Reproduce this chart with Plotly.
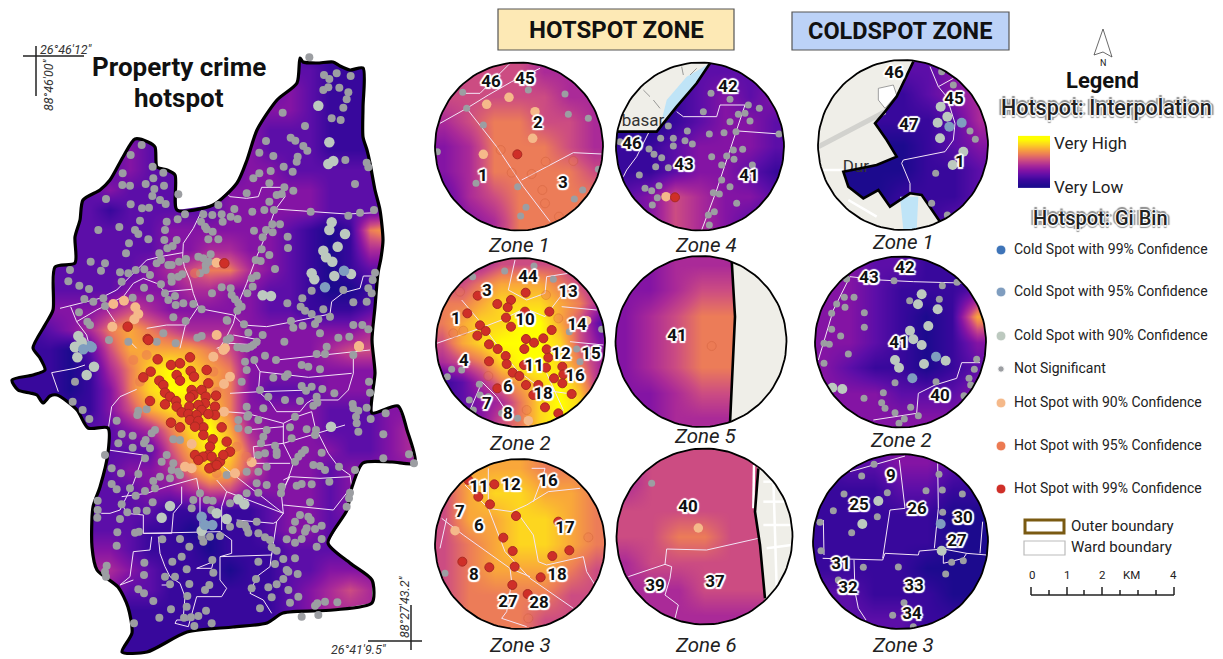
import numpy as np
import plotly.graph_objects as go

# ---------- data (map grid: values 0-9) ----------
MAP_X = list(range(10, 430, 20))
MAP_Y = list(range(50, 670, 20))
MAP_Z = [
"222222222222222111111","222222222222222211111","222222222222223211111","222222222222233211111",
"222222222222322211111","222222322222322211122","222222322222332222222","222223222223333322222",
"222221222223333322222","222222223333332101673","222222223344332101442","222222234566432101222",
"222222333443322100111","333334543333322111222","112346765444333333443","111025777765333345533",
"111014689876333333333","111013689976322233333","111113578886333322233","222222346897433322234",
"222222225798533332234","222222334687533323333","222222233455333323333","222222221121123323333",
"222222211001123322222","333333211101112222222","444444321110112233333","333333221111112345444",
"111111111111112344444","111111111111112222222","111111111111111111111",
]
OUTLINE = [(300,58),(303,62),(317,63),(333,62),(340,66),(350,70),(363,68),(363,107),(363,137),(367,150),(370,163),(375,190),(380,210),(383,240),(381,258),(378,273),(375,307),(372,340),
(375,373),(373,390),(372,413),(398,406),(407,430),(415,463),(392,462),(363,463),(352,487),(347,510),(328,543),(350,563),(372,580),(372,603),(333,610),(283,613),(267,623),(233,627),(187,632),(147,652),(122,652),(132,633),(128,607),(118,587),(97,570),(92,547),(93,507),(100,487),(108,453),(108,428),(88,428),(77,410),(57,395),(50,396),(43,403),(37,395),(30,393),(18,390),(12,380),(33,375),(45,370),(40,358),(33,348),
(45,325),(53,310),(55,267),(75,263),(75,237),(80,220),(83,200),(100,190),(110,180),(123,157),(135,139),(148,142),(155,147),(157,167),(167,170),(175,175),(177,210),(213,205),(237,183),(247,160),(257,130),(277,100),(297,83)]

MAP_LINES = [
[(680,460),(690,470),(740,475),(775,470),(785,442),(850,442),(855,470),(825,510),(800,580),(770,650),(740,730),(715,790),(700,850),(680,890),(655,930)],
[(825,507),(930,515),(1040,522),(1130,518)],
[(608,507),(580,565),(550,610),(548,650),(553,680),(570,720),(580,760),(595,800),(575,830),(555,860),(540,925)],
[(548,638),(480,650),(440,660),(400,700),(350,750),(300,775),(180,805)],
[(212,800),(230,845),(260,885),(270,925)],
[(230,845),(290,810),(370,770),(400,730),(430,715),(470,730),(495,755),(575,748)],
[(595,805),(700,825),(730,855),(800,860),(880,845),(990,822),(995,785),(1030,758),(1080,745),(1090,708),(1125,708)],
[(318,805),(345,845)],[(440,865),(500,855),(555,855)],
[(700,885),(780,900),(775,915),(690,910),(650,925)],[(385,900),(410,925)],
]
MAP_LINES_LOW = [
[(255,75),(225,85),(155,98),(175,155)],
[(410,148),(360,170),(335,200),(325,265),(325,330),(430,345),(400,430),(370,490),(360,510),(330,520),(305,520),(280,505)],
[(365,470),(440,460),(500,440),(590,415)],[(590,415),(600,470),(600,575)],
[(545,440),(545,490),(520,520),(515,580),(430,580),(430,525),(380,520),(365,490)],
[(430,580),(600,575),(660,575),(695,600),(695,640),(660,650),(660,720),(680,745),(665,770),(590,770),(575,820),(565,860),(525,850),(530,840),(565,840)],
[(455,590),(450,630),(400,635),(390,710),(360,735),(400,720)],
[(475,590),(480,640),(495,680),(510,710),(540,730),(555,770),(550,830)],
[(660,650),(815,645),(820,610),(830,545),(850,520),(845,470),(870,400),(880,370),(850,310),(850,250),(890,230),(935,215),(945,260),(985,340),(1015,380),(1050,405),(1055,440),(1000,510),(850,495)],
[(650,420),(680,455),(665,500),(665,570)],[(680,455),(850,520)],[(850,520),(720,420),(670,380)],
[(710,540),(820,550),(830,545)],
[(760,60),(780,95),(775,155),(810,185),(830,215),(900,215),(920,190),(935,180),(1015,180),(1045,150),(1060,100),(1060,40)],
[(780,95),(925,112),(1055,100)],[(690,160),(780,155),(930,150)],[(830,60),(1110,30)],
[(675,215),(740,220),(850,250)],[(740,270),(800,265),(850,260)],[(760,320),(850,310),(1035,255)],
[(760,320),(765,370),(800,370),(870,370)],[(850,420),(870,410),(960,415),(1050,410)],[(850,445),(870,410)],
[(590,685),(640,665),(635,685),(590,685)],[(485,735),(520,735)],
[(815,640),(810,680),(770,710),(750,760),(790,780),(815,820)],
]
UP_GREY = [(928,52),(972,105),(988,117),(1010,100),(1052,108),(970,150),(985,142),(1018,143),(1045,157),(1040,178),(1030,203),(995,235),(1022,240),(848,218),(915,258),(798,303),(872,293),(886,302),(910,318),(922,332),(893,350),(890,365),(820,348),(778,338),(851,380),(878,395),(812,393),(778,400),(760,415),(808,430),(853,442),(880,452),(740,460),(830,465),(845,462),(808,485),(793,510),(822,510),(757,515),(1036,360),(1100,368),(1105,382),(1065,432),(932,515),(1045,527),(1080,518),(1122,510),(840,553),(817,553),(798,570),(762,572),(818,577),(788,592),(863,590),(864,624),(785,628),(808,645),(767,660),(782,663),(825,687),(770,707),(755,715),(758,740),(742,760),(692,745),(695,765),(665,742),(636,760),(705,778),(715,790),(725,800),(712,812),(862,790),(907,775),(902,800),(915,812),(935,822),(970,808),(990,830),(955,838),(945,852),(908,857),(873,843),(880,863),(960,880),(1015,893),(1048,890),(1060,855),(1087,855),(1105,868),(1060,787),(1100,785),(1030,750),(1105,745),(1115,760),(1118,720),(1125,698),(935,752),(853,905),(788,885),(745,878),(732,853),(682,842),(592,893),(605,888),(680,900),(690,895),(752,920),(740,925),(728,925),(770,905),
(425,315),(392,345),(458,380),(368,400),(490,398),(460,415),(367,435),(390,437),(437,432),(463,447),(492,437),(457,468),(318,477),(480,480),(497,492),(392,493),(426,505),(447,503),(535,463),(555,523),(533,538),(500,545),(420,542),(358,561),(295,570),(495,570),(405,570),(415,582),(445,598),(493,600),(387,610),(378,640),(603,545),(615,560),(620,568),(638,575),(610,523),(637,525),(665,523),(668,545),(703,507),(713,537),(692,530),(655,495),(625,598),(655,598),(530,600),(518,618),(502,625),(478,640),(595,650),(632,643),(610,655),(558,657),(537,665),(515,675),(505,675),(483,660),(470,670),(272,665),(315,670),(303,692),(210,690),(205,724),(238,737),(267,747),(360,697),(385,700),(407,690),(433,688),(450,705),(365,725),(432,743),(483,733),(514,710),(535,710),(547,703),(515,725),(495,760),(505,780),(525,768),(527,795),(550,790),(580,792),(617,690),(600,700),(617,675),(627,665),(315,798),(280,785),(253,777),(310,775),(237,817),(262,845),(270,855),(398,773),(450,775),(520,832),(557,843),(680,840),(605,808),(490,880),(470,905),(527,910),(327,900),(385,905)]
UP_COLD90 = [(955,197),(988,307),(985,372),(1000,363),(995,547),(988,570),(1035,582),(970,632),(1013,620),(978,652),(997,665),(935,700),(943,718),(1003,708),(1053,702),(788,766),(813,768),(235,888),(225,920),(245,905)]
UP_COLD95 = [(975,742),(1032,692),(270,918),(250,925)]
UP_HOT90 = [(650,668),(340,792),(372,782),(406,802),(415,822),(403,838),(337,860),(650,885),(1077,918),(675,925)]
UP_HOT95 = [(585,700)]
UP_HOT99 = [(673,670),(383,860),(443,897)]

LOW_GREY = [(225,125),(218,185),(248,210),(268,237),(350,242),(412,225),(440,208),(415,212),(465,270),(455,280),(365,282),(398,287),(355,310),(437,300),(432,310),(520,298),(540,300),(398,323),(450,325),(315,345),(435,355),(500,345),(485,365),(520,370),(335,385),(363,400),(415,402),(515,390),(535,395),(480,410),(460,423),(510,415),(335,432),(350,448),(390,445),(435,453),(465,445),(407,467),(293,482),(365,493),(410,512),(382,517),(440,512),(458,487),(293,510),(292,533),(360,537),(352,577),(405,578),(417,575),(350,617),(487,598),(540,597),(568,620),(610,605),(545,650),(517,665),(433,668),(560,688),(432,705),(525,710),(495,710),(640,698),(510,733),(568,732),(628,735),(615,750),(415,748),(432,760),(562,768),(460,783),(513,808),(478,833),(552,833),(573,832),(595,828),(618,812),(635,850),(583,858),(402,850),(780,805),(815,772),(755,745),(805,742),(830,733),(850,717),(893,702),(865,695),(860,690),(825,672),(850,657),(885,655),(775,665),(768,717),(865,750),(895,770),(870,788),(1012,787),(975,785),(952,790),(905,830),(955,825),(945,797),(320,677),(315,695),(318,710),(637,660),(560,800),
(795,47),(735,65),(712,22),(740,25),(760,15),(763,60),(828,60),(905,75),(925,80),(960,88),(950,42),(980,20),(975,42),(1060,45),(740,90),(725,125),(820,113),(855,110),(863,103),(905,138),(780,150),(967,147),(1003,160),(1107,125),(1110,158),(918,152),(935,140),(805,170),(855,180),(900,183),(950,170),(940,197),(952,188),(1058,192),(1060,205),(1100,203),(1075,212),(1068,230),(1070,250),(1112,237),(1075,275),(1157,220),(1150,283),(1150,355),(1227,343),(1242,370),(740,200),(790,205),(745,225),(715,240),(775,240),(742,230),(715,265),(800,270),(745,270),(790,290),(783,310),(885,230),(870,262),(875,295),(920,268),(948,270),(945,285),(915,330),(905,340),(895,350),(885,365),(965,338),(940,375),(960,378),(975,390),(1017,380),(1065,390),(830,345),(830,335),(775,345),(795,340),(825,317),(800,380),(775,395),(770,430),(800,435),(845,440),(843,460),(890,437),(905,432),(935,433),(988,425),(1050,458),(1047,475),(1040,500),(930,487),(900,525),(925,530),(932,540),(885,545),(965,557),(945,567),(920,565),(915,575),(878,570),(860,598),(885,608),(905,597),(965,597),(950,620),(815,622),(830,632),(810,600),(795,592),(775,580),(740,565),(745,578),(735,555),(770,545),(720,552),(690,560),(660,588),(630,590),(605,590),(580,480),(575,505),(600,460),(638,482),(634,510),(690,490),(740,460),(775,458),(680,405),(740,395),(540,405),(620,480)]
LOW_COLD90 = [(993,260),(510,498),(485,533),(232,52),(260,105),(282,80),(225,22),(245,10),(605,572),(650,520),(680,537),(715,478),(733,493)]
LOW_COLD95 = [(605,530),(615,555),(637,555),(250,28),(275,22)]
LOW_HOT90 = [(1077,20),(690,110),(672,132),(672,215),(575,312),(555,380),(575,385),(705,400),(755,367),(640,50),(670,30)]
LOW_HOT95 = [(400,60),(420,125),(440,45),(640,95),(650,155),(710,320),(740,350),(650,400)]
LOW_HOT99 = [(445,0),(473,58),(513,75),(540,70),(570,52),(530,105),(572,93),(582,110),(540,122),(620,90),(452,95),(430,112),(478,122),(490,135),(625,130),(495,158),(510,170),(528,183),(575,150),(605,150),(580,165),(570,172),(617,170),(648,167),(450,183),(495,193),(530,200),(615,190),(568,200),(595,195),(645,200),(605,210),(545,217),(565,222),(590,225),(645,225),(625,222),(513,248),(540,262),(570,240),(595,243),(665,262),(610,262),(585,260),(610,285),(638,298),(680,305),(630,320),(625,345),(585,345),(610,350),(635,350),(660,365),(690,335),(670,345),(595,360),(640,380),(628,385),(650,375)]

# zone: hot 1
H1_Z = ["4555444","5555544","4566554","3466654","3466665","2456666","2346666"]
H1_LINES = [[(30,370),(110,325),(175,285),(245,245),(330,205)],[(100,280),(150,280),(240,190)],[(110,325),(200,440),(280,560),(360,665)],[(275,540),(350,500),(430,458),(515,462)]]
H1_GREY = [(98,277),(110,325),(295,270),(405,282),(415,343),(475,355),(160,375),(138,550),(263,560),(288,622),(272,648),(433,597),(458,570),(505,508),(22,455)]
H1_H90 = [(170,313),(237,292),(315,335),(308,415),(160,463)]
H1_H95 = [(212,450),(245,518),(305,522),(347,485),(430,483),(337,570),(345,610),(387,650)]
H1_H99 = [(262,463)]
H1_TXT = ["46","45","2","1","3"]; H1_TXY = [(491,83),(525,80),(538,124),(483,177),(563,184)]
# zone: hot 4
H4_Z = ["1112222","1112323","0012332","1123332","1123321","2354332","2354321"]
H4_LAND = [(520,395),(680,395),(740,320),(800,250),(840,190),(840,150),(520,150)]
H4_RIVER = [(695,360),(710,300),(770,230),(830,195),(840,190),(800,250),(740,320)]
H4_BORDER = [(560,395),(640,395),(680,395),(740,320),(800,250),(840,190)]
H4_DASH = [[(640,270),(660,290)],[(670,300),(690,325)],[(755,200),(760,225)],[(800,205),(780,225)]]
H4_LINES = [[(740,335),(760,350),(860,350),(870,315),(945,315),(900,450),(860,570),(815,690)],[(925,393),(1050,402)],[(660,390),(620,470),(590,510),(580,530)]]
H4_GREY = [(843,280),(900,298),(955,315),(988,325),(820,335),(925,343),(945,340),(960,363),(900,365),(715,378),(772,393),(838,402),(882,398),(918,395),(1047,402),(692,415),(730,415),(765,422),(787,432),(730,438),(657,447),(672,463),(695,473),(890,468),(910,450),(938,448),(912,478),(845,470),(875,495),(967,495),(628,525),(677,500),(715,503),(875,540),(900,560),(645,565),(687,557),(665,572),(682,593),(667,615),(850,578),(868,582),(920,610),(853,635),(835,645),(838,675),(570,425)]
H4_H90 = [(708,590)]; H4_H99 = [(735,592)]
H4_TXT = ["42","46","43","41"]; H4_TXY = [(728,88),(632,145),(684,166),(749,177)]
# zone: hot 2
H2_Z = ["444555544","556777654","667888764","678899752","578999853","456899864","124678974","123468985","123568985"]
H2_LINES = [[(255,30),(235,120)],[(235,120),(290,150),(345,130),(350,80),(415,70)],[(95,150),(150,215),(205,290),(260,360),(340,420),(410,430)],[(20,280),(150,235),(215,210),(285,175),(345,200),(395,135)],[(395,170),(500,180)],[(420,275),(520,285)],[(155,395),(200,440),(240,500)],[(350,370),(400,480),(360,520)],[(120,480),(150,410)]]
H2_GREY = [(224,63),(312,48),(128,80),(370,88),(440,297),(515,238),(418,245),(65,358),(52,380),(95,360),(148,403),(118,450),(150,435),(175,440),(215,490),(263,505),(130,480),(450,335)]
H2_H90 = [(470,212),(295,512)]
H2_H95 = [(90,125),(348,135),(70,250),(100,242),(385,205),(175,378),(290,480)]
H2_H99 = [(143,137),(202,162),(243,150),(233,172),(287,128),(285,185),(358,185),(228,203),(112,190),(150,226),(243,230),(167,243),(365,240),(142,257),(288,267),(340,265),(312,278),(177,283),(203,297),(283,297),(350,298),(227,318),(355,323),(177,334),(230,342),(282,345),(348,353),(397,350),(248,368),(268,378),(372,385),(400,373),(288,405),(397,400),(325,405),(202,415),(425,432),(310,435),(345,472),(385,490)]
H2_TXT = ["44","3","13","1","10","14","12","15","4","11","16","6","18","7","8"]
H2_TXY = [(528,278),(487,292),(568,293),(456,320),(525,321),(577,326),(561,355),(591,355),(464,362),(534,367),(575,377),(508,388),(543,395),(487,405),(508,415)]
# zone: hot 5
H5_Z = ["3344444","3345555","3456666","3456666","3456666","3345555","3344444"]
H5_LAND = [(905,0),(915,200),(900,540),(1100,540),(1100,0)]
H5_BORDER = [(905,30),(915,200),(900,520)]
H5_H95 = [(845,288)]
H5_TXT = ["41"]; H5_TXY = [(677,337)]
# zone: hot 3
H3_Z = ["6777666","5788776","5778876","5678876","5677765","5666655","5666555"]
H3_LINES = [[(105,120),(175,190),(245,200),(290,180),(355,140),(450,130)],[(175,70),(175,190),(225,320),(300,400),(430,490)],[(35,220),(100,270),(240,370),(300,395)],[(260,200),(310,270),(325,350),(350,360),(460,335),(470,380),(495,420)],[(240,370),(245,410),(230,500),(215,520),(290,545)],[(305,70),(345,70),(340,90),(310,170)],[(50,220),(30,310)]]
H3_GREY = [(45,385)]; H3_H90 = [(75,257)]; H3_H95 = [(475,277),(295,520)]
H3_H99 = [(193,118),(115,105),(180,178),(258,213),(385,230),(220,278),(248,318),(418,316),(367,333),(97,350),(178,367),(254,365),(332,397),(247,420),(293,447),(145,155)]
H3_TXT = ["11","12","16","7","6","17","8","18","27","28"]
H3_TXY = [(479,488),(511,486),(548,482),(460,513),(479,527),(565,529),(474,576),(557,576),(508,603),(539,604)]
# zone: hot 6
H6_Z = ["4555554","4555554","5555555","5566555","4555555","4445555","4444444"]
H6_LAND = [(985,0),(975,200),(990,300),(1005,480),(1100,480),(1100,0)]
H6_BORDER = [(985,70),(975,200),(990,300),(1005,460)]
H6_STREETS = [[(1000,110),(1085,110)],[(1000,170),(1085,170)],[(1000,240),(1085,240)],[(1010,310),(1085,300)],[(1030,100),(1040,430)],[(972,60),(970,190)]]
H6_LINES = [[(595,395),(705,358),(710,312),(830,315),(985,280)],[(705,358),(725,365),(720,400),(705,450),(745,480),(735,520)]]
H6_GREY = [(665,115)]; H6_H90 = [(805,249)]
H6_TXT = ["40","37","39"]; H6_TXY = [(688,508),(715,583),(655,587)]
# zone: cold 1
C1_Z = ["1122233","1111234","0011124","0000123","0000112","0001112","0111122"]
C1_LAND = [(370,185),(345,240),(320,290),(285,335),(255,370),(290,420),(320,470),(260,495),(160,515),(175,560),(220,595),(265,570),(300,620),(360,580),(395,585),(450,665),(450,720),(50,720),(50,170),(370,170)]
C1_BORDER = [(370,185),(345,240),(320,290),(285,335),(255,370),(290,420),(320,470),(260,495),(160,515),(175,560),(220,595),(265,570),(300,620),(360,580),(395,585),(450,665)]
C1_RIVER = [(330,590),(385,590),(380,690),(340,690)]
C1_ISLAND = [(265,265),(310,255),(320,285),(285,325),(265,300),(265,265)]
C1_ROAD = [(85,440),(285,335)]
C1_WHITE = [[(100,510),(160,510)],[(175,600),(260,650)]]
C1_LINES = [[(420,200),(445,260),(490,235)],[(445,260),(470,290),(495,370),(490,420),(465,455),(340,480),(335,490),(360,550),(360,575)]]
C1_GREY = [(455,215),(490,255),(540,393),(556,418),(437,520),(425,610),(472,645)]
C1_C90 = [(452,320),(472,350),(443,368),(450,415),(520,455),(488,495)]
C1_C95 = [(478,380),(515,368)]
C1_TXT = ["46","45","47","1"]; C1_TXY = [(894,74),(954,100),(909,126),(960,163)]
# zone: cold 2
C2_Z = ["3322111","3321112","3321017","3321013","3211012","3332223","3333333"]
C2_LINES = [[(55,330),(100,180),(150,80),(240,90),(340,95),(470,100),(520,100)],[(220,510),(350,490),(355,430),(405,405),(470,385),(485,338),(540,338)]]
C2_GREY = [(140,87),(282,92),(427,107),(471,97),(162,142),(133,142),(110,162),(135,172),(95,190),(193,188),(193,232),(95,238),(122,258),(72,280),(88,283),(145,312),(72,340),(329,152),(418,148),(285,398),(408,395),(192,445),(250,428),(245,458),(255,475),(285,488),(332,472),(355,497),(313,507),(297,520),(530,328),(523,358),(507,385),(512,405),(492,437)]
C2_C90 = [(365,133),(354,163),(413,178),(385,228),(330,242),(340,268),(365,285),(285,330),(297,353),(372,342),(437,332),(127,417),(97,413)]
C2_C95 = [(408,320),(337,385)]
C2_TXT = ["42","43","41","40"]; C2_TXY = [(905,269),(869,279),(899,344),(940,397)]
# zone: cold 3
C3_Z = ["1223321","1112211","1111100","1111100","1111000","2211100","2222111"]
C3_LINES = [[(150,80),(220,60),(315,33)],[(298,45),(315,190),(270,195),(248,340)],[(68,340),(248,345),(255,325),(355,330),(358,318),(430,312),(500,325),(560,330)],[(413,55),(415,190),(403,310)],[(430,312),(430,355),(490,340),(500,325)],[(540,325),(548,230)],[(70,225),(72,330)],[(162,345),(165,440),(175,490),(198,525)]]
C3_GREY = [(222,58),(185,93),(417,88),(132,147),(262,143),(378,137),(427,135),(487,147),(100,197),(232,215),(428,202),(60,232),(155,263),(63,317),(190,367),(295,366),(455,352),(490,347),(437,387),(312,473),(278,511),(340,545),(115,405)]
C3_C90 = [(235,168),(187,237),(425,317)]
C3_C95 = [(422,237)]
C3_TXT = ["9","25","26","30","27","31","32","33","34"]
C3_TXY = [(891,477),(859,506),(917,510),(963,519),(957,542),(841,565),(848,589),(914,587),(912,615)]

ZONE_NAMES = ["Zone 1","Zone 4","Zone 2","Zone 5","Zone 3","Zone 6","Zone 1","Zone 2","Zone 3"]
ZONE_NAME_XY = [(519,245),(706,245),(520,443),(705,436),(520,645),(706,645),(903,242),(901,440),(903,645)]
LEG_LABELS = ["Cold Spot with 99% Confidence","Cold Spot with 95% Confidence","Cold Spot with 90% Confidence","Not Significant","Hot Spot with 90% Confidence","Hot Spot with 95% Confidence","Hot Spot with 99% Confidence"]
LEG_Y = [250,292,336,369,403,446,489]
GRAD_Z = [[0,0],[1,1],[2,2],[3,3],[4,4],[5,5],[6,6],[7,7],[8,8],[9,9]]
SCALE_LABELS = ["0","1","2","KM","4"]
SCALE_LABEL_X = [1032,1067,1102,1131,1173]
SCALE_TICK_X = [1031,1049,1067,1084,1102,1120,1138,1156,1174]

# ---------- styles ----------
CS = [[0,"#1c0a8e"],[1/9,"#38089c"],[2/9,"#5c0ea8"],[3/9,"#8414a4"],[4/9,"#aa2a98"],[5/9,"#cc4c82"],[6/9,"#ec7c58"],[7/9,"#f9a73a"],[8/9,"#fdd61f"],[1,"#ffff00"]]
GREY="#9c9ea2"; C90="#bcc9bf"; C95="#7f9dbf"; C99="#3e74b8"; H90="#f5b98a"; H95="#ec7a52"; H99="#cf2f28"
FONT="Roboto"; WARD="#f3e4f6"; LAND="#efeee8"; RIVER="#bfe4f7"
HALO = ",".join(f"{a}px {b}px 1px #fff" for a,b in [(2,0),(-2,0),(0,2),(0,-2),(1.5,1.5),(-1.5,1.5),(1.5,-1.5),(-1.5,-1.5)])
HALO2 = ",".join(f"{a}px {b}px 1px #fff" for a,b in [(1.5,0),(-1.5,0),(0,1.5),(0,-1.5)]) + ",3px 0 1px #888,-3px 0 1px #888,0 3px 1px #888,0 -3px 1px #888"

fig = go.Figure()

def pts(pairs, ox, oy):
    return [ox + p[0]/3 for p in pairs], [oy + p[1]/3 for p in pairs]

def grid(rows):
    return [[int(c) for c in r] for r in rows]

def heat(x, y, rows):
    fig.add_trace(go.Heatmap(x=x, y=y, z=grid(rows), colorscale=CS, zmin=0, zmax=9, zsmooth="best",
                             showscale=False, hoverinfo="skip"))

def line(x, y, color=WARD, width=1.0, spline=False):
    ln = dict(color=color, width=width)
    if spline:
        ln.update(shape="spline", smoothing=0.7)
    fig.add_trace(go.Scatter(x=x, y=y, mode="lines", line=ln, hoverinfo="skip", showlegend=False))

def poly(x, y, color):
    fig.add_trace(go.Scatter(x=x, y=y, mode="lines", fill="toself", fillcolor=color, line=dict(width=0, color=color), hoverinfo="skip", showlegend=False))

def dots(pairs, ox, oy, color, size, edge=None, opacity=1):
    if not pairs:
        return
    x, y = pts(pairs, ox, oy)
    fig.add_trace(go.Scatter(x=x, y=y, mode="markers", opacity=opacity,
        marker=dict(color=color, size=size, line=dict(width=1 if edge else 0, color=edge or color)),
        hoverinfo="skip", showlegend=False))

def ccw(path):
    a = sum(path[i][0]*path[(i+1)%len(path)][1]-path[(i+1)%len(path)][0]*path[i][1] for i in range(len(path)))
    return path if a < 0 else path[::-1]

def hole_mask(x0, x1, y0, y1, path):
    rect = [(x0,y0),(x1,y0),(x1,y1),(x0,y1),(x0,y0)]
    a = sum(rect[i][0]*rect[i+1][1]-rect[i+1][0]*rect[i][1] for i in range(4))
    p = ccw(path) if a > 0 else ccw(path)[::-1]
    p = p + [p[0]]
    xs = [q[0] for q in rect] + [None] + [q[0] for q in p]
    ys = [q[1] for q in rect] + [None] + [q[1] for q in p]
    poly(xs, ys, "#ffffff")

def labels(txt, xy, size=17):
    fig.add_trace(go.Scatter(x=[p[0] for p in xy], y=[p[1] for p in xy], text=txt, mode="text",
        textfont=dict(family=FONT, size=size, color="#111", weight=700, shadow=HALO), hoverinfo="skip", showlegend=False))

# ---------- main map ----------
heat(MAP_X, MAP_Y, MAP_Z)
hole_mask(-5, 425, 35, 665, OUTLINE)
for l in MAP_LINES:
    x, y = pts(l, 0, 40); line(x, y)
for l in MAP_LINES_LOW:
    x, y = pts(l, 0, 340); line(x, y)
line([p[0] for p in OUTLINE]+[OUTLINE[0][0]], [p[1] for p in OUTLINE]+[OUTLINE[0][1]], "#000000", 3.2, spline=True)
for grey, c90, c95, h90, h95, h99, oy in [(UP_GREY,UP_COLD90,UP_COLD95,UP_HOT90,UP_HOT95,UP_HOT99,40),(LOW_GREY,LOW_COLD90,LOW_COLD95,LOW_HOT90,LOW_HOT95,LOW_HOT99,340)]:
    dots(grey,0,oy,GREY,8)
    dots(c90,0,oy,C90,10.5)
    dots(c95,0,oy,C95,10.5)
    dots(h90,0,oy,H90,10)
    dots(h95,0,oy,H95,10,opacity=0.55)
    dots(h99,0,oy,H99,9.5,edge="#a92a22")

# ---------- zone circles ----------
def clamp(x, y, cx, cy, r):
    m = r + 3
    return [min(max(v, cx-m), cx+m) for v in x], [min(max(v, cy-m), cy+m) for v in y]

def zone(cx, cy, r, ox, oy, rows, lines=(), grey=(), c90=(), c95=(), h90=(), h95=(), h99=(), txt=(), txy=(), land=None, extras=None, border=None):
    n = len(rows)
    d = 2*(r+4)/n
    c = [d*(i+0.5)-(r+4) for i in range(n)]
    heat([cx+v for v in c], [cy+v for v in c], rows)
    if land:
        x, y = pts(land, ox, oy); x, y = clamp(x, y, cx, cy, r); poly(x, y, LAND)
    if extras:
        extras(cx, cy, r)
    for l in lines:
        x, y = pts(l, ox, oy); line(x, y)
    if border:
        x, y = pts(border, ox, oy); line(x, y, "#000000", 2.6)
    dots(list(grey),ox,oy,GREY,7)
    dots(list(c90),ox,oy,C90,10)
    dots(list(c95),ox,oy,C95,10)
    dots(list(h90),ox,oy,H90,9.5)
    dots(list(h95),ox,oy,H95,9,edge="#c8552f",opacity=0.35)
    dots(list(h99),ox,oy,H99,9,edge="#a92a22")
    t = np.linspace(0, 2*np.pi, 121)[:-1]
    circ = [(cx+r*np.cos(a), cy+r*np.sin(a)) for a in t]
    hole_mask(cx-r-5, cx+r+5, cy-r-5, cy+r+5, circ)
    line([p[0] for p in circ]+[circ[0][0]], [p[1] for p in circ]+[circ[0][1]], "#000000", 1.8)
    labels(list(txt), list(txy))

def h4_extra(cx, cy, r):
    x, y = pts(H4_RIVER, 430, 0); poly(x, y, RIVER)
    for l in H4_DASH:
        x, y = pts(l, 430, 0); line(x, y, "#9a9a98", 1)
    fig.add_trace(go.Scatter(x=[643], y=[122], text=["basar"], mode="text", textfont=dict(family=FONT, size=17, color="#333"), hoverinfo="skip", showlegend=False))

def h6_extra(cx, cy, r):
    for l in H6_STREETS:
        x, y = pts(l, 430, 445); x, y = clamp(x, y, cx, cy, r); line(x, y, "#ffffff", 2.5)

def c1_extra(cx, cy, r):
    x, y = pts(C1_ROAD, 790, 0); line(x, y, "#d2d2ce", 5)
    x, y = pts(C1_RIVER, 790, 0); poly(x, y, RIVER)
    x, y = pts(C1_ISLAND, 790, 0); poly(x, y, "#ffffff"); line(x, y, "#888888", 0.8)
    for l in C1_WHITE:
        x, y = pts(l, 790, 0); line(x, y, "#ffffff", 2.5)
    fig.add_trace(go.Scatter(x=[856], y=[168], text=["Dur"], mode="text", textfont=dict(family=FONT, size=17, color="#333"), hoverinfo="skip", showlegend=False))

zone(519,146.5,84,430,0,H1_Z,H1_LINES,H1_GREY,h90=H1_H90,h95=H1_H95,h99=H1_H99,txt=H1_TXT,txy=H1_TXY)
zone(700,146.5,84,430,0,H4_Z,H4_LINES,H4_GREY,h90=H4_H90,h99=H4_H99,txt=H4_TXT,txy=H4_TXY,land=H4_LAND,extras=h4_extra,border=H4_BORDER)
zone(520.5,342.5,84.5,430,250,H2_Z,H2_LINES,H2_GREY,h90=H2_H90,h95=H2_H95,h99=H2_H99,txt=H2_TXT,txy=H2_TXY)
zone(701,341.5,85.5,430,250,H5_Z,h95=H5_H95,txt=H5_TXT,txy=H5_TXY,land=H5_LAND,border=H5_BORDER)
zone(520,544,85,430,445,H3_Z,H3_LINES,H3_GREY,h90=H3_H90,h95=H3_H95,h99=H3_H99,txt=H3_TXT,txy=H3_TXY)
zone(704.5,536.5,88,430,445,H6_Z,H6_LINES,H6_GREY,h90=H6_H90,txt=H6_TXT,txy=H6_TXY,land=H6_LAND,extras=h6_extra,border=H6_BORDER)
zone(903,145,85,790,0,C1_Z,C1_LINES,C1_GREY,c90=C1_C90,c95=C1_C95,txt=C1_TXT,txy=C1_TXY,land=C1_LAND,extras=c1_extra,border=C1_BORDER)
zone(900.5,342,85.5,800,250,C2_Z,C2_LINES,C2_GREY,c90=C2_C90,c95=C2_C95,txt=C2_TXT,txy=C2_TXY)
zone(900.5,541.5,87.5,800,445,C3_Z,C3_LINES,C3_GREY,c90=C3_C90,c95=C3_C95,txt=C3_TXT,txy=C3_TXY)

# ---------- legend ----------
fig.add_trace(go.Heatmap(x=[1026,1042], y=list(np.linspace(185.5,138.5,10)), z=GRAD_Z, colorscale=CS, zmin=0, zmax=9, zsmooth="best", showscale=False, hoverinfo="skip"))
fig.add_trace(go.Scatter(x=[1001]*7, y=LEG_Y, mode="markers", marker=dict(size=[10,10,10,6.5,10,10,10], opacity=1, color=[C99,C95,C90,GREY,H90,H95,H99]), hoverinfo="skip", showlegend=False))

ann = []
def note(x, y, t, size, color="#111", bold=False, italic=False, anchor="center", angle=0, shadow=None, weight=None):
    f = dict(family=FONT, size=size, color=color, weight=weight or (700 if bold else 400), style="italic" if italic else "normal")
    if shadow: f["shadow"] = shadow
    ann.append(dict(x=x, y=y, xref="x", yref="y", text=t, showarrow=False, font=f, xanchor=anchor, yanchor="middle", textangle=angle, align="center"))

note(179, 67, "Property crime", 26, bold=True)
note(179, 98, "hotspot", 26, bold=True)
note(616, 30, "HOTSPOT ZONE", 24, bold=True)
note(900, 31, "COLDSPOT ZONE", 23.5, bold=True)
note(1102, 80, "Legend", 22, bold=True)
note(1106, 107, "Hotspot: Interpolation", 21.5, shadow=HALO2, color="#222", weight=500)
note(1100, 218, "Hotspot: Gi Bin", 20, shadow=HALO2, color="#222", weight=500)
note(1052, 143, "Very High", 17, anchor="left", color="#222")
note(1052, 187, "Very Low", 17, anchor="left", color="#222")
for yy, t in zip(LEG_Y, LEG_LABELS):
    note(1012, yy-1, t, 14, anchor="left", color="#222")
note(1069, 526, "Outer boundary", 15, anchor="left", color="#222")
note(1069, 547, "Ward boundary", 15, anchor="left", color="#222")
for xx, t in zip(SCALE_LABEL_X, SCALE_LABELS):
    note(xx, 575, t, 11.5, color="#222")
note(1103, 63, "N", 9, color="#222")
for t, p in zip(ZONE_NAMES, ZONE_NAME_XY):
    note(p[0], p[1], t, 20.5, italic=True, color="#222")
note(66, 49, "26°46'12\"", 12.5, italic=True, color="#333")
note(48, 85, "88°46'00\"", 12.5, italic=True, color="#333", angle=-90)
note(359, 649, "26°41'9.5\"", 12.5, italic=True, color="#333")
note(404, 607, "88°27'43.2\"", 12.5, italic=True, color="#333", angle=-90)

def rect(x0, y0, x1, y1, fill, lc, lw):
    return dict(type="rect", x0=x0, y0=y0, x1=x1, y1=y1, xref="x", yref="y", fillcolor=fill, line=dict(color=lc, width=lw), layer="above")
def seg(x0, y0, x1, y1, c="#222", w=1.5):
    return dict(type="line", x0=x0, y0=y0, x1=x1, y1=y1, xref="x", yref="y", line=dict(color=c, width=w), layer="above")

shapes = [rect(498,9,734,50,"#fde9b5","#555",1.2), rect(792,12,1009,50,"#bcd2f7","#555",1.2),
          rect(1025,520,1064,533,"#fff","#7a5a12",3), rect(1024,541,1065,555,"#fff","#bbb",1.2),
          seg(23,56,84,56), seg(36,46,36,96), seg(368,641,422,641), seg(411,605,411,650),
          seg(1031,595,1174,595)]
for i, xx in enumerate(SCALE_TICK_X):
    shapes.append(seg(xx, 587 if i in (0,2,4,8) else 590, xx, 595))
shapes.append(dict(type="path", path="M 1103 29 L 1094 55 L 1103 52 L 1112 57 Z", xref="x", yref="y", fillcolor="#fff", line=dict(color="#444", width=0.8), layer="above"))

fig.update_layout(width=1223, height=659, margin=dict(l=0,r=0,t=0,b=0), paper_bgcolor="#fff", plot_bgcolor="#fff",
    xaxis=dict(range=[0,1223], visible=False, fixedrange=True),
    yaxis=dict(range=[659,0], visible=False, fixedrange=True),
    showlegend=False, annotations=ann, shapes=shapes)
fig.write_html("out.html", config={"displayModeBar": False},
    post_script="document.body.style.margin='0';document.body.style.overflow='hidden';")
